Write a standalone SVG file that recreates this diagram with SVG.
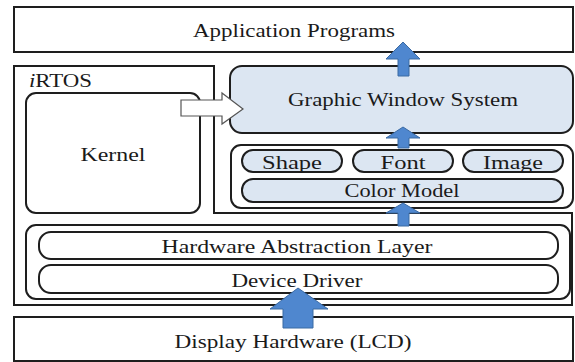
<svg xmlns="http://www.w3.org/2000/svg" width="575" height="362" viewBox="0 0 575 362">
<style>
.box{fill:#fff;stroke:#1e1e1e;stroke-width:2}
.blue{fill:#dce6f2;stroke:#1e1e1e;stroke-width:2}
.arr{fill:#4f87cf;stroke:#3b6aa3;stroke-width:1}
.warr{fill:#fff;stroke:#555;stroke-width:1.2}
text{font-family:"Liberation Serif","DejaVu Serif",serif;font-size:18px;fill:#1a1a1a;text-anchor:middle}
</style>
<rect width="575" height="362" fill="#fff"/>
<g id="app"><rect class="box" x="14" y="7" width="559" height="45"/><text x="294" y="37" textLength="202" lengthAdjust="spacingAndGlyphs">Application Programs</text></g>
<g id="display"><rect class="box" x="14" y="317" width="559" height="44"/><text x="293" y="348" textLength="237" lengthAdjust="spacingAndGlyphs">Display Hardware (LCD)</text></g>
<g id="irtos"><path class="box" d="M14,66 H214 V213 H572 V305 H14 Z"/><text x="29" y="87" style="text-anchor:start" textLength="63" lengthAdjust="spacingAndGlyphs"><tspan font-style="italic">i</tspan>RTOS</text></g>
<g id="kernel"><rect class="box" x="26" y="93" width="174" height="120" rx="10"/><text x="113" y="161" textLength="65" lengthAdjust="spacingAndGlyphs">Kernel</text></g>
<g id="gws"><rect class="blue" x="230" y="66" width="343" height="67" rx="12"/><text x="403" y="106" textLength="230" lengthAdjust="spacingAndGlyphs">Graphic Window System</text></g>
<g id="gfx"><rect class="box" x="231" y="145" width="342" height="63" rx="10"/></g>
<g id="shape"><rect class="blue" x="242" y="150" width="100" height="22" rx="11"/><text x="292" y="169" textLength="60" lengthAdjust="spacingAndGlyphs">Shape</text></g>
<g id="font"><rect class="blue" x="353" y="150" width="100" height="22" rx="11"/><text x="403" y="169" textLength="45" lengthAdjust="spacingAndGlyphs">Font</text></g>
<g id="image"><rect class="blue" x="463" y="150" width="100" height="22" rx="11"/><text x="513" y="169" textLength="60" lengthAdjust="spacingAndGlyphs">Image</text></g>
<g id="color"><rect class="blue" x="242" y="179" width="321" height="23" rx="11"/><text x="402" y="197" textLength="115" lengthAdjust="spacingAndGlyphs">Color Model</text></g>
<g id="halgroup"><rect class="box" x="26" y="225" width="544" height="74" rx="10"/></g>
<g id="hal"><rect class="box" x="39" y="232" width="519" height="27" rx="12"/><text x="297" y="253" textLength="271" lengthAdjust="spacingAndGlyphs">Hardware Abstraction Layer</text></g>
<g id="driver"><rect class="box" x="39" y="265" width="519" height="28" rx="12"/><text x="297" y="287" textLength="131" lengthAdjust="spacingAndGlyphs">Device Driver</text></g>
<g id="connectors">
<path class="arr" d="M403,42 L420,59 L409,59 L409,76 L398,76 L398,59 L386,59 Z"/>
<path class="arr" d="M403,127 L420,138 L409,138 L409,148 L398,148 L398,138 L386,138 Z"/>
<path class="arr" d="M403,203 L420,213 L409,213 L409,226 L398,226 L398,213 L386,213 Z"/>
<path class="arr" d="M298,288 L328,309 L313,309 L313,328 L283,328 L283,309 L270,309 Z"/>
<path class="warr" d="M181,100 L222,100 L222,93 L243,109 L222,124 L222,116 L181,116 Z"/>
</g>
</svg>
